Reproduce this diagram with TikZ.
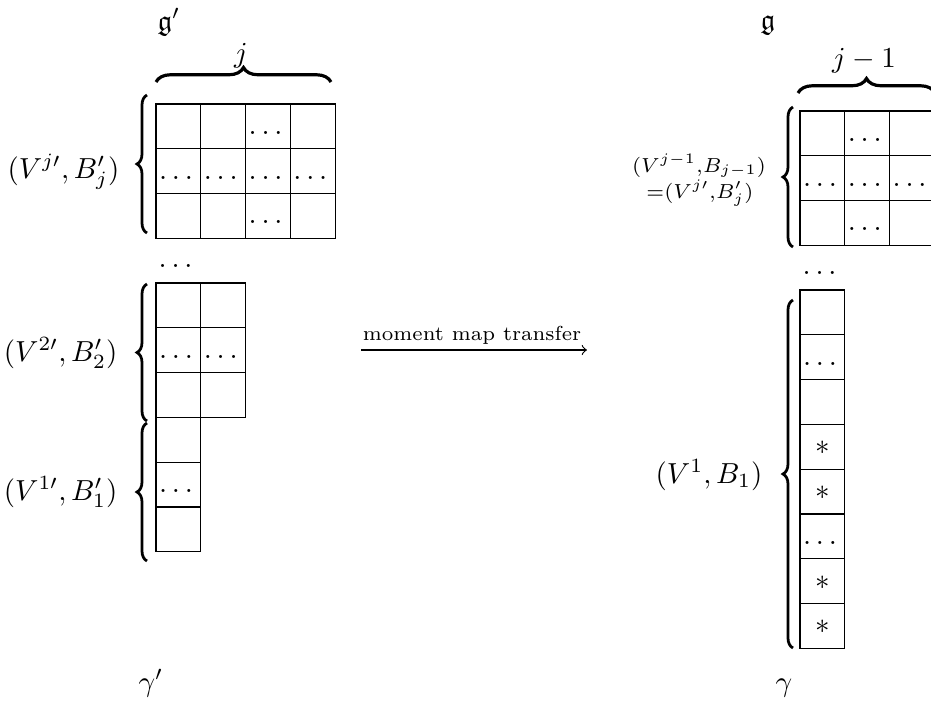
\documentclass[tikz,border=0pt]{standalone}
\usepackage{amsmath,amssymb}
\usetikzlibrary{decorations.pathreplacing}
\begin{document}
\begin{tikzpicture}[x=0.345pt,y=-0.345pt,
  cellbox/.style={draw, inner sep=0pt, minimum width=15.46pt, minimum height=15.46pt, text height=1.5ex, text depth=.25ex},
  sidebrace/.style={decorate, decoration={brace, amplitude=3.45pt}, line width=0.95pt},
  topbrace/.style={decorate, decoration={brace, amplitude=5pt}, line width=1.1pt},
  lbl/.style={inner sep=0pt, anchor=base east},
  txt/.style={inner sep=0pt, anchor=base}]
\useasboundingbox (0,0) rectangle (931,702);
% ---------- left side ----------
\node[txt, anchor=base west] (gp) at (157,30) {$\mathfrak{g}'$};
\coordinate (tbl1) at (156,82);
\coordinate (tbl2) at (331,82);
\draw[topbrace] (tbl1) -- (tbl2);
\node[txt] (jl) at (241,62) {$j$};
\foreach \c/\r/\t in {0/0/{},1/0/{},2/0/\dots,3/0/{},0/1/\dots,1/1/\dots,2/1/\dots,3/1/\dots,0/2/{},1/2/{},2/2/\dots,3/2/{}}
  \node[cellbox] (P\c\r) at ({178.4+\c*44.8},{126.4+\r*44.8}) {$\t$};
\coordinate (b3s) at (147,233);
\coordinate (b3e) at (147,95);
\draw[sidebrace] (b3s) -- (b3e);
\node[lbl] (l3) at (120,178) {$(V^{j\prime},B'_j)$};
\node[txt] (dl) at (178,267.6) {$\dots$};
\foreach \c/\r/\t in {0/0/{},1/0/{},0/1/\dots,1/1/\dots,0/2/{},1/2/{}}
  \node[cellbox] (Q\c\r) at ({178.4+\c*44.8},{305.4+\r*44.8}) {$\t$};
\coordinate (b2s) at (147,421);
\coordinate (b2e) at (147,284);
\draw[sidebrace] (b2s) -- (b2e);
\node[lbl] (l2) at (118,361) {$(V^{2\prime},B'_2)$};
\foreach \r/\t in {0/{},1/\dots,2/{}}
  \node[cellbox] (R\r) at (178.4,{439.8+\r*44.8}) {$\t$};
\coordinate (b1s) at (147,561);
\coordinate (b1e) at (147,423);
\draw[sidebrace] (b1s) -- (b1e);
\node[lbl] (l1) at (118,500) {$(V^{1\prime},B'_1)$};
\node[txt] (gml) at (151,691.5) {$\gamma'$};
% ---------- arrow ----------
\coordinate (arS) at (361,350);
\coordinate (arE) at (587,350);
\draw[->] (arS) -- (arE);
\node[txt, font=\scriptsize] (mmt) at (472,340) {moment map transfer};
% ---------- right side ----------
\node[txt, anchor=base west] (g) at (760,29) {$\mathfrak{g}$};
\coordinate (tbr1) at (798,93);
\coordinate (tbr2) at (935,93);
\draw[topbrace] (tbr1) -- (tbr2);
\node[txt] (jr) at (864,67) {$j-1$};
\foreach \c/\r/\t in {0/0/{},1/0/\dots,2/0/{},0/1/\dots,1/1/\dots,2/1/\dots,0/2/{},1/2/\dots,2/2/{}}
  \node[cellbox] (S\c\r) at ({822.4+\c*44.8},{133.4+\r*44.8}) {$\t$};
\coordinate (b4s) at (793,247);
\coordinate (b4e) at (793,107);
\draw[sidebrace] (b4s) -- (b4e);
\node[txt] (l4a) at (699,172) {$\scriptstyle(V^{j-1},B_{j-1})$};
\node[txt] (l4b) at (700,198) {$\scriptstyle=(V^{j\prime},B'_j)$};
\node[txt] (dr) at (822,274.6) {$\dots$};
\foreach \r/\t in {0/{},1/\dots,2/{},3/*,4/*,5/\dots,6/*,7/*}
  \node[cellbox] (T\r) at (822.4,{312.4+\r*44.8}) {$\t$};
\coordinate (b5s) at (793,648);
\coordinate (b5e) at (793,300);
\draw[sidebrace] (b5s) -- (b5e);
\node[lbl] (l5) at (763,483) {$(V^1,B_1)$};
\node[txt] (gm) at (784,691) {$\gamma$};
\end{tikzpicture}
\end{document}
